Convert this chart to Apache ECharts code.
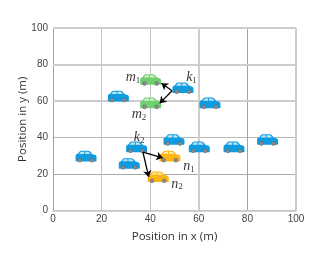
<!DOCTYPE html>
<html><head><meta charset="utf-8">
<style>html,body{margin:0;padding:0;background:#fff}#c{width:327px;height:258px}</style>
<script src="https://cdn.jsdelivr.net/npm/echarts@6/dist/echarts.min.js"></script>
</head><body><div id="c"></div>
<script>
var blueCars = [[53.5,67],[26.9,62.4],[64.6,58.7],[34.4,34.6],[13.6,29.5],[31.4,25.5],[49.8,38.6],[60.2,34.6],[74.5,34.6],[88.3,38.6]];
var greenCars = [[40.2,71.5],[40.2,58.7]];
var yellowCars = [[48.1,29.5],[43.3,18.2]];
var arrows = [
  [[49,65.6],[44.6,69.7]],
  [[49,65.6],[43.9,58.7]],
  [[37,32],[45.2,28.9]],
  [[37,32],[39.4,18.4]]
];
var labels = [
  ['m','1',32.9,73],['k','1',57,73],['m','2',35.4,52.5],['k','2',35.4,40],['n','1',56,24],['n','2',51,14.5]
];
var vGrid = ['#cfcfcf','#c4c4c4','#c4c4c4','#cccccc','#a3a3a3','#cfcfcf'];
var hGrid = ['#c9c9c9','#a9a9a9','#b8b8b8','#cfcfcf','#d3d3d3','#cccccc'];
var thickX = [60,100];
var thickY = [60,80,100];

function carSeries(data, body, glass){
  return {
    type:'custom', coordinateSystem:'cartesian2d', data:data, z:5, silent:true,
    encode:{x:0,y:1},
    renderItem:function(params, api){
      var p = api.coord([api.value(0), api.value(1)]);
      var wheel = function(dx){
        return {type:'circle', shape:{cx:dx,cy:3.5,r:1.9}, style:{fill:'#8e8e8e',stroke:'#666666',lineWidth:0.6}};
      };
      return {type:'group', x:p[0], y:p[1], children:[
        {type:'path', shape:{pathData:'M-10.5 3.8 L-10.5 -0.5 C-10.5 -2 -9.5 -2.6 -8.3 -2.8 L-6.6 -5 C-6.2 -5.6 -5.6 -5.8 -5 -5.8 L2 -5.8 C3 -5.8 3.6 -5.5 4.2 -4.8 L6.4 -2.4 L8.6 -1.8 C9.8 -1.4 10.5 -0.8 10.5 0.6 L10.5 3.8 C10.5 4.5 10.1 4.8 9.5 4.8 L-9.5 4.8 C-10.1 4.8 -10.5 4.5 -10.5 3.8 Z', x:-10.5,y:-5.8,width:21,height:10.6}, style:{fill:body}},
        {type:'path', shape:{pathData:'M-7 -2.6 L-5.2 -4.8 L-1.8 -4.8 L-1.8 -2.6 Z M-0.8 -2.6 L-0.8 -4.8 L2.4 -4.8 L4.4 -2.6 Z', x:-7,y:-4.8,width:11.4,height:2.2}, style:{fill:glass}},
        wheel(-6.2), wheel(6)
      ]};
    }
  };
}

var chart = echarts.init(document.getElementById('c'), null, {renderer:'canvas'});
chart.setOption({
  animation:false,
  backgroundColor:'#ffffff',
  grid:{left:53,right:31,top:28,bottom:47.5},
  xAxis:{
    type:'value', min:0, max:100, interval:20,
    name:'Position in x (m)', nameLocation:'middle', nameGap:20,
    nameTextStyle:{fontFamily:'Open Sans',fontSize:11.5,color:'#333333'},
    axisLine:{show:true,onZero:false,lineStyle:{color:'#c4c4c4',width:1.5}},
    axisTick:{show:false},
    axisLabel:{fontFamily:'Liberation Sans',fontSize:10,color:'#444444',margin:4,showMinLabel:true,showMaxLabel:true},
    splitLine:{show:true,lineStyle:{color:vGrid,width:1}}
  },
  yAxis:{
    type:'value', min:0, max:100, interval:20,
    name:'Position in y (m)', nameLocation:'middle', nameGap:30, nameMoveOverlap:false,
    nameTextStyle:{fontFamily:'Open Sans',fontSize:11.5,color:'#333333',verticalAlign:'middle'},
    axisLine:{show:true,onZero:false,lineStyle:{color:'#a0a0a0',width:1}},
    axisTick:{show:false},
    axisLabel:{fontFamily:'Liberation Sans',fontSize:10,color:'#444444',margin:5},
    splitLine:{show:true,lineStyle:{color:hGrid,width:1}}
  },
  series:[
    {
      type:'scatter', data:[], z:1, silent:true,
      markLine:{
        silent:true, symbol:'none', animation:false, label:{show:false},
        lineStyle:{color:'#cdcdcd',width:2,type:'solid'},
        data:thickX.map(function(v){return {xAxis:v};}).concat(thickY.map(function(v){return {yAxis:v};}))
      }
    },
    carSeries(blueCars,'#0f9be0','#bfe6f7'),
    carSeries(greenCars,'#6fd070','#d4f2d0'),
    carSeries(yellowCars,'#fdb515','#ffe9a8'),
    {
      type:'lines', coordinateSystem:'cartesian2d', z:8, silent:true, polyline:false,
      symbol:['none','arrow'], symbolSize:6.5,
      lineStyle:{color:'#000000',width:1.3,opacity:1,curveness:0},
      data:arrows.map(function(a){return {coords:a};})
    },
    {
      type:'scatter', z:9, symbolSize:0, silent:true,
      data:labels.map(function(l){return {
        value:[l[2],l[3]],
        label:{show:true,position:'inside',
          formatter:'{a|'+l[0]+'}{b|'+l[1]+'}',
          rich:{
            a:{fontFamily:'Liberation Serif',fontStyle:'italic',fontSize:14,color:'#000000'},
            b:{fontFamily:'Liberation Serif',fontSize:9,color:'#000000',padding:[6,0,0,0]}
          }}
      };})
    }
  ]
});
</script></body></html>
